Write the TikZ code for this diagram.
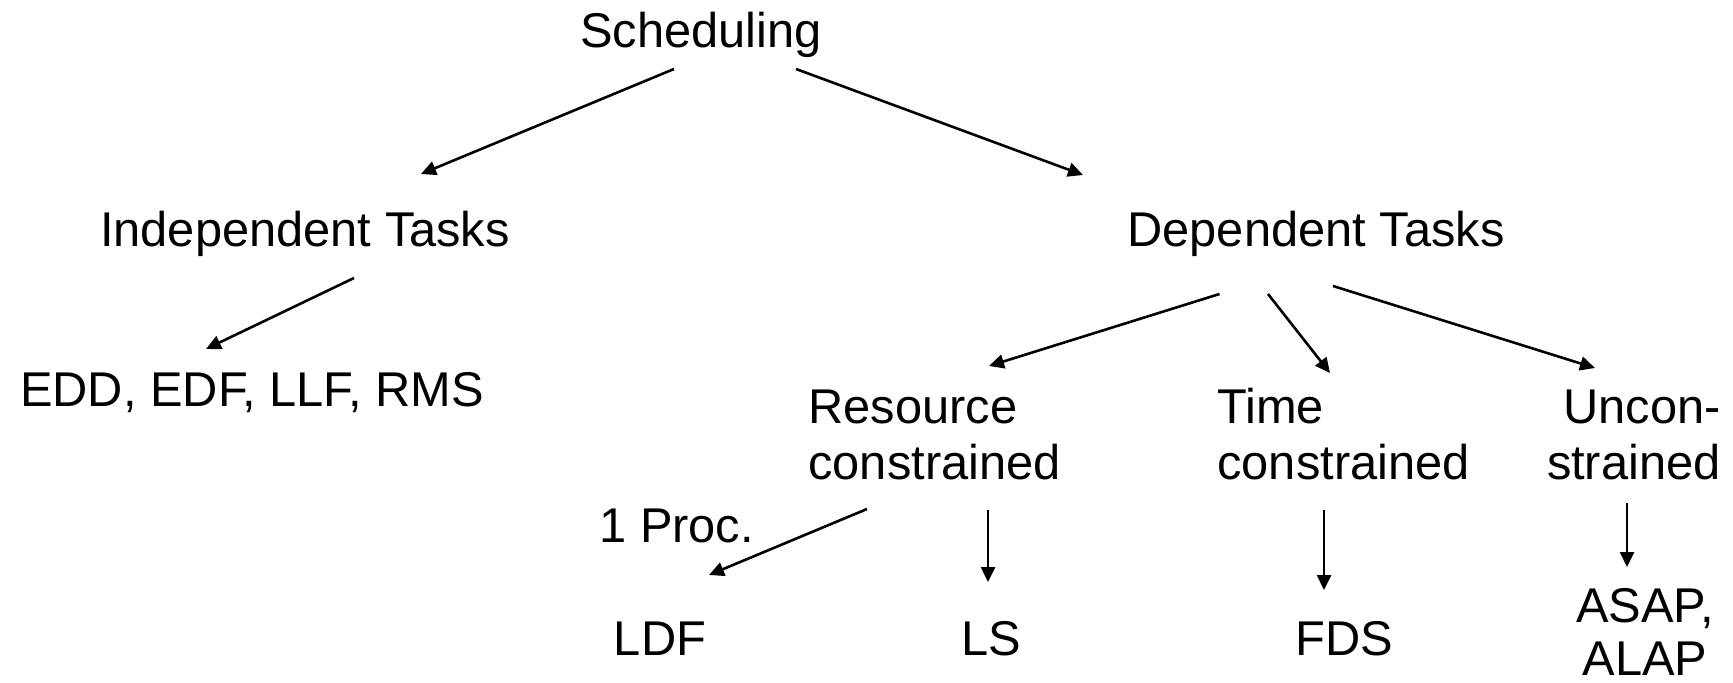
\documentclass[tikz,border=0pt]{standalone}
\usepackage{fontspec}
\setmainfont{Liberation Sans}
\usetikzlibrary{arrows.meta,calc}
\begin{document}
\begin{tikzpicture}[x=0.5pt,y=-0.5pt,
  lbl/.style={inner sep=0pt, font=\fontsize{24.4}{28.2}\selectfont},
  arr/.style={line width=1.3pt, -{Triangle[length=7.5pt,width=7pt]}}]
\useasboundingbox (0,0) rectangle (1733,683);
\node[lbl, anchor=base] (sched) at (701,47.5) {Scheduling};
\node[lbl, anchor=base] (ind) at (305,246.5) {Independent Tasks};
\node[lbl, anchor=base] (dep) at (1316,246.5) {Dependent Tasks};
\node[lbl, anchor=base] (edd) at (252,406.7) {EDD, EDF, LLF, RMS};
\node[lbl, anchor=base west, align=left] (res) at (808,479.7) {Resource\\constrained};
\node[lbl, anchor=base west, align=left] (time) at (1217,479.7) {Time\\constrained};
\node[lbl, anchor=base east, align=right] (uncon) at (1721,479.7) {Uncon-\\strained};
\node[lbl, anchor=base west] (proc) at (599,542.7) {1 Proc.};
\node[lbl, anchor=base] (ldf) at (660,655) {LDF};
\node[lbl, anchor=base] (ls) at (991,655) {LS};
\node[lbl, anchor=base] (fds) at (1344,655) {FDS};
\node[lbl, anchor=base, align=center, font=\fontsize{24.4}{26.2}\selectfont] (asap) at (1645,675) {ASAP,\\ALAP};

\draw[arr] ($(sched.base)+(-27,21.5)$) -- ($(ind.base)+(116,-72.5)$);
\draw[arr] ($(sched.base)+(95,21.5)$) -- ($(dep.base)+(-233,-71.5)$);
\draw[arr] ($(ind.base)+(49,31.5)$) -- ($(edd.base)+(-46,-57.7)$);
\draw[arr] ($(dep.base)+(-96.5,47.5)$) -- ($(res.base west)+(181,-113.7)$);
\draw[arr] ($(dep.base)+(-48,47.5)$) -- ($(time.base west)+(113,-106.7)$);
\draw[arr] ($(dep.base)+(17,39.5)$) -- ($(uncon.base east)+(-126,-111.7)$);
\draw[arr] ($(res.base west)+(59,29.3)$) -- ($(ldf.base)+(49,-80)$);
\draw[arr] ($(res.base west)+(180,30.3)$) -- ($(ls.base)+(-3,-73)$);
\draw[arr] ($(time.base west)+(107,30.3)$) -- ($(fds.base)+(-20,-65)$);
\draw[arr] ($(uncon.base east)+(-94,23.3)$) -- ($(asap.base)+(-18,-108)$);
\end{tikzpicture}
\end{document}
